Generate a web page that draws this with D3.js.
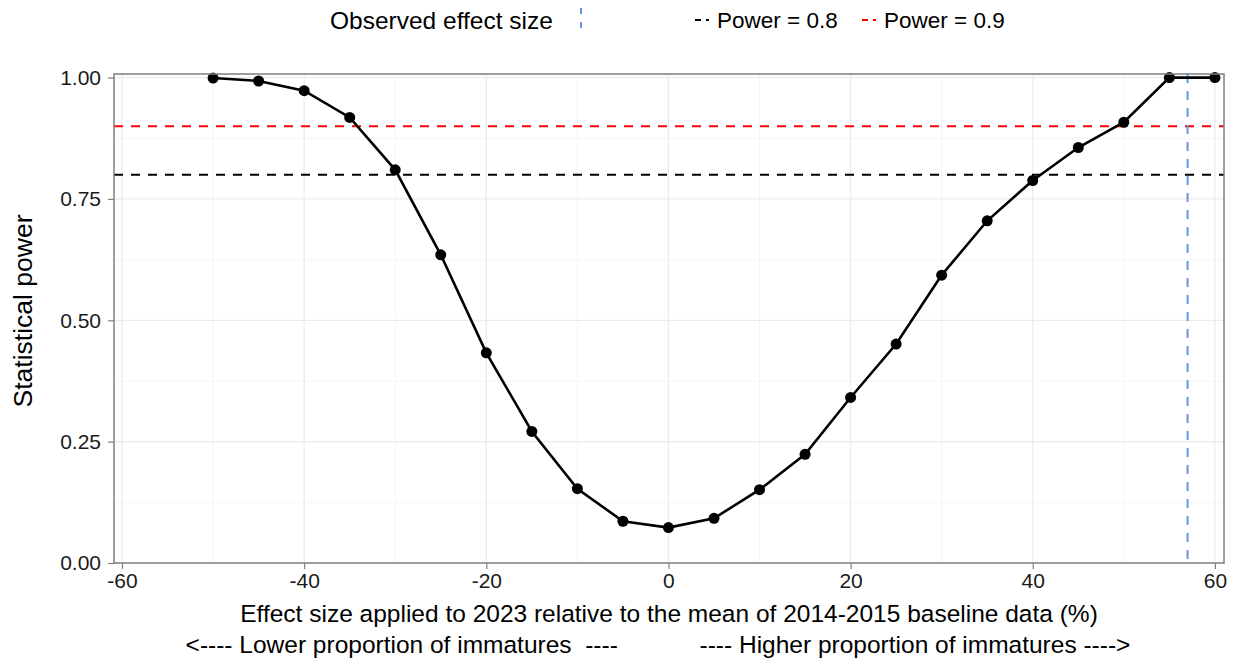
<!DOCTYPE html>
<html><head><meta charset="utf-8">
<script src="https://cdn.jsdelivr.net/npm/d3@7"></script>
<style>body{margin:0;background:#fff}svg{display:block}text{font-family:"Liberation Sans",Arial,sans-serif}</style>
</head><body>
<svg id="c" width="1236" height="661"></svg>
<script>
const effectSize = [-50,-45,-40,-35,-30,-25,-20,-15,-10,-5,0,5,10,15,20,25,30,35,40,45,50,55,60];
const power = [0.999,0.993,0.973,0.918,0.810,0.635,0.433,0.271,0.153,0.086,0.073,0.092,0.151,0.224,0.341,0.451,0.593,0.705,0.788,0.856,0.908,1.0,1.0];
const xTicks = [-60,-40,-20,0,20,40,60];
const yTicks = [0,0.25,0.5,0.75,1.0];
const xMinor = [-50,-30,-10,10,30,50];
const yMinor = [0.125,0.375,0.625,0.875];
const powerLines = [{label:"Power = 0.8", value:0.8, color:"#000000"},{label:"Power = 0.9", value:0.9, color:"#FF0000"}];
const observedEffect = 57;

const svg = d3.select("#c");
const L=114, R=1224, T=74, B=563;
const x = d3.scaleLinear().domain([-60.88,61.0]).range([L,R]);
const y = d3.scaleLinear().domain([0,1.0074]).range([B,T]);

// grid
const g = svg.append("g");
g.selectAll(".gm").data(xMinor).join("line").attr("x1",d=>x(d)).attr("x2",d=>x(d)).attr("y1",T).attr("y2",B).attr("stroke","#f2f2f2").attr("stroke-width",0.8);
g.selectAll(".gmy").data(yMinor).join("line").attr("y1",d=>y(d)).attr("y2",d=>y(d)).attr("x1",L).attr("x2",R).attr("stroke","#f2f2f2").attr("stroke-width",0.8);
g.selectAll(".gM").data(xTicks).join("line").attr("x1",d=>x(d)).attr("x2",d=>x(d)).attr("y1",T).attr("y2",B).attr("stroke","#ebebeb").attr("stroke-width",1.2);
g.selectAll(".gMy").data(yTicks).join("line").attr("y1",d=>y(d)).attr("y2",d=>y(d)).attr("x1",L).attr("x2",R).attr("stroke","#ebebeb").attr("stroke-width",1.2);

// power lines
svg.selectAll(".pl").data(powerLines).join("line")
  .attr("x1",L).attr("x2",R).attr("y1",d=>y(d.value)).attr("y2",d=>y(d.value))
  .attr("stroke",d=>d.color).attr("stroke-width",2).attr("stroke-dasharray","9,8");

// observed effect
svg.append("line").attr("x1",x(observedEffect)).attr("x2",x(observedEffect)).attr("y1",T).attr("y2",B)
  .attr("stroke","#6495ED").attr("stroke-width",2).attr("stroke-dasharray","9,8");

// line + points
const data = effectSize.map((e,i)=>({x:e,y:power[i]}));
svg.append("path").datum(data).attr("fill","none").attr("stroke","#000").attr("stroke-width",2.6)
  .attr("d",d3.line().x(d=>x(d.x)).y(d=>y(d.y)));
svg.selectAll(".pt").data(data).join("circle").attr("cx",d=>x(d.x)).attr("cy",d=>y(d.y)).attr("r",5.5).attr("fill","#000");

// border
svg.append("rect").attr("x",L).attr("y",T).attr("width",R-L).attr("height",B-T).attr("fill","none").attr("stroke","#7f7f7f").attr("stroke-width",1.5);

// axes
const xa = svg.append("g").attr("transform",`translate(0,${B})`).call(d3.axisBottom(x).tickValues(xTicks).tickSize(6).tickPadding(4).tickFormat(d=>String(d)));
const ya = svg.append("g").attr("transform",`translate(${L},0)`).call(d3.axisLeft(y).tickValues(yTicks).tickSize(6).tickPadding(7).tickFormat(d3.format(".2f")));
[xa,ya].forEach(a=>{a.select(".domain").remove();a.selectAll("line").attr("stroke","#7f7f7f").attr("stroke-width",1.2);
  a.selectAll("text").attr("font-size",21).attr("fill","#1a1a1a").attr("font-family","Liberation Sans, Arial, sans-serif");});

// titles
svg.append("text").attr("x",669).attr("y",622).attr("text-anchor","middle").attr("font-size",24.5).attr("fill","#000")
  .text("Effect size applied to 2023 relative to the mean of 2014-2015 baseline data (%)");
svg.append("text").attr("x",658).attr("y",653).attr("text-anchor","middle").attr("font-size",24.5).attr("fill","#000").attr("xml:space","preserve")
  .text("<---- Lower proportion of immatures  ----            ---- Higher proportion of immatures ---->");
svg.append("text").attr("transform","translate(32,311) rotate(-90)").attr("text-anchor","middle").attr("font-size",26.5).attr("fill","#000")
  .text("Statistical power");

// legend
svg.append("text").attr("x",330).attr("y",29).attr("font-size",24.5).attr("fill","#000").text("Observed effect size");
svg.append("line").attr("x1",581).attr("x2",581).attr("y1",8).attr("y2",32).attr("stroke","#6495ED").attr("stroke-width",2).attr("stroke-dasharray","6,8");
const lg = svg.selectAll(".lg").data(powerLines).join("g").attr("transform",(d,i)=>`translate(${695+i*167},0)`);
lg.append("line").attr("x1",0).attr("x2",14).attr("y1",20).attr("y2",20).attr("stroke",d=>d.color).attr("stroke-width",2).attr("stroke-dasharray","6,5");
lg.append("text").attr("x",22).attr("y",28).attr("font-size",22.5).attr("fill","#000").text(d=>d.label);
</script>
</body></html>
